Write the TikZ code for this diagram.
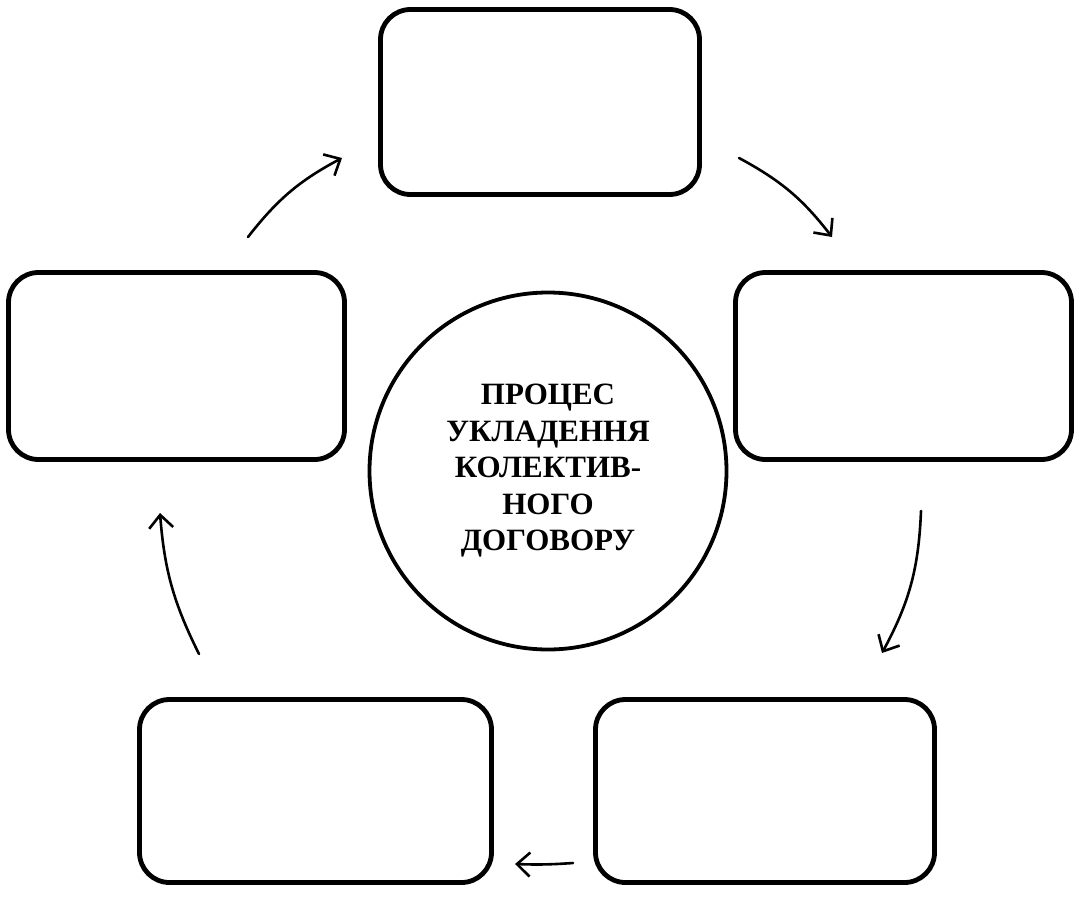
\documentclass[tikz,border=0pt]{standalone}
\usepackage{fontspec}
\setmainfont{Liberation Serif}
\usetikzlibrary{arrows.meta}
\begin{document}
\begin{tikzpicture}[x=1pt,y=-1pt,
  box/.style={draw, line width=4.8pt, rounded corners=30pt, inner sep=0pt},
  hub/.style={draw, circle, line width=3.8pt, inner sep=0pt, minimum size=357pt,
    align=center, font=\fontsize{31pt}{36.5pt}\selectfont\bfseries},
  flow/.style={line width=2.6pt, line cap=round,
    -{Straight Barb[length=13pt,width=24pt,line width=2.6pt]}}
]
\useasboundingbox (0,0) rectangle (1081,899);

\node[box, minimum width=319pt, minimum height=185pt] (top) at (540,102) {};
\node[box, minimum width=336pt, minimum height=187pt] (right) at (903.5,366) {};
\node[box, minimum width=336pt, minimum height=187pt] (left) at (176.5,366) {};
\node[box, minimum width=352pt, minimum height=183pt] (bl) at (315.5,791) {};
\node[box, minimum width=339pt, minimum height=183pt] (br) at (765,791) {};

\node[hub] (hub) at (548,471) {ПРОЦЕС\\УКЛАДЕННЯ\\КОЛЕКТИВ-\\НОГО\\ДОГОВОРУ};

\coordinate (a1s) at (248,237); \coordinate (a1e) at (342,158);
\coordinate (a2s) at (739,158); \coordinate (a2e) at (832,237);
\coordinate (a3s) at (921,511); \coordinate (a3e) at (882,653);
\coordinate (a4s) at (573,863); \coordinate (a4e) at (515,864);
\coordinate (a5s) at (199,654); \coordinate (a5e) at (160,513);

\draw[flow] (a1s) to[bend left=12] (a1e);
\draw[flow] (a2s) to[bend left=12] (a2e);
\draw[flow] (a3s) to[bend left=13] (a3e);
\draw[flow] (a4s) to[bend left=3] (a4e);
\draw[flow] (a5s) to[bend left=11] (a5e);
\end{tikzpicture}
\end{document}
